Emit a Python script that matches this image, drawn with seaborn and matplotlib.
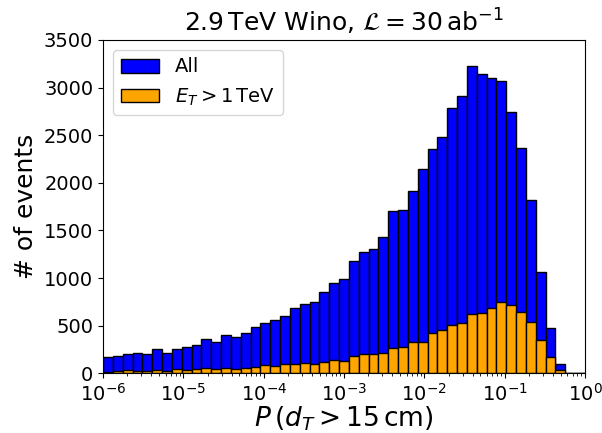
import numpy as np
import pandas as pd
import matplotlib
matplotlib.use("Agg")
import matplotlib.pyplot as plt
import seaborn as sns

# log10 bin edges: 49 bins from 1e-6 to 1
log_edges = list(np.linspace(-6, 0, 50))

# counts per bin
all_counts = [168, 178, 199, 217, 203, 252, 217, 255, 272, 297,
              360, 328, 402, 384, 426, 486, 524, 556, 605, 685,
              727, 744, 852, 943, 985, 1184, 1272, 1303, 1432, 1708,
              1719, 1915, 2145, 2355, 2480, 2785, 2917, 3225, 3147, 3102,
              3071, 2739, 2362, 1824, 1069, 475, 101, 0, 0]
high_et_counts = [14, 21, 31, 28, 21, 31, 21, 45, 35, 45,
                  52, 49, 56, 42, 56, 66, 87, 77, 94, 98,
                  108, 101, 119, 143, 131, 178, 199, 206, 210, 262,
                  276, 325, 325, 426, 451, 510, 528, 622, 636, 681,
                  744, 713, 639, 535, 346, 171, 31, 0, 0]

e = np.array(log_edges)
df = pd.DataFrame({
    "p": 10 ** (0.5 * (e[:-1] + e[1:])),
    "all": all_counts,
    "high": high_et_counts,
})

fig = plt.figure(figsize=(6.02, 4.33), dpi=100)
ax = fig.add_axes([103 / 602, 1 - 373.3 / 433, (585 - 103) / 602, (373.3 - 40) / 433])

sns.histplot(data=df, x="p", weights="all", bins=log_edges, log_scale=True,
             color="blue", edgecolor="black", linewidth=1, alpha=1,
             label="All", ax=ax)
sns.histplot(data=df, x="p", weights="high", bins=log_edges, log_scale=True,
             color="orange", edgecolor="black", linewidth=1, alpha=1,
             label=r"$E_T > 1\,\mathrm{TeV}$", ax=ax)

ax.set_xlim(1e-6, 1)
ax.set_ylim(0, 3500)
ax.set_yticks(np.arange(0, 3501, 500))
ax.tick_params(axis="both", labelsize=14)
ax.set_xlabel(r"$P\,(d_T > 15\,\mathrm{cm})$", fontsize=19, labelpad=0)
ax.set_ylabel("# of events", fontsize=18)
ax.set_title(r"2.9$\,$TeV Wino, $\mathcal{L} = 30\,\mathrm{ab}^{-1}$", fontsize=18)
ax.legend(loc="upper left", fontsize=14)

fig.savefig("out.png", dpi=100)
